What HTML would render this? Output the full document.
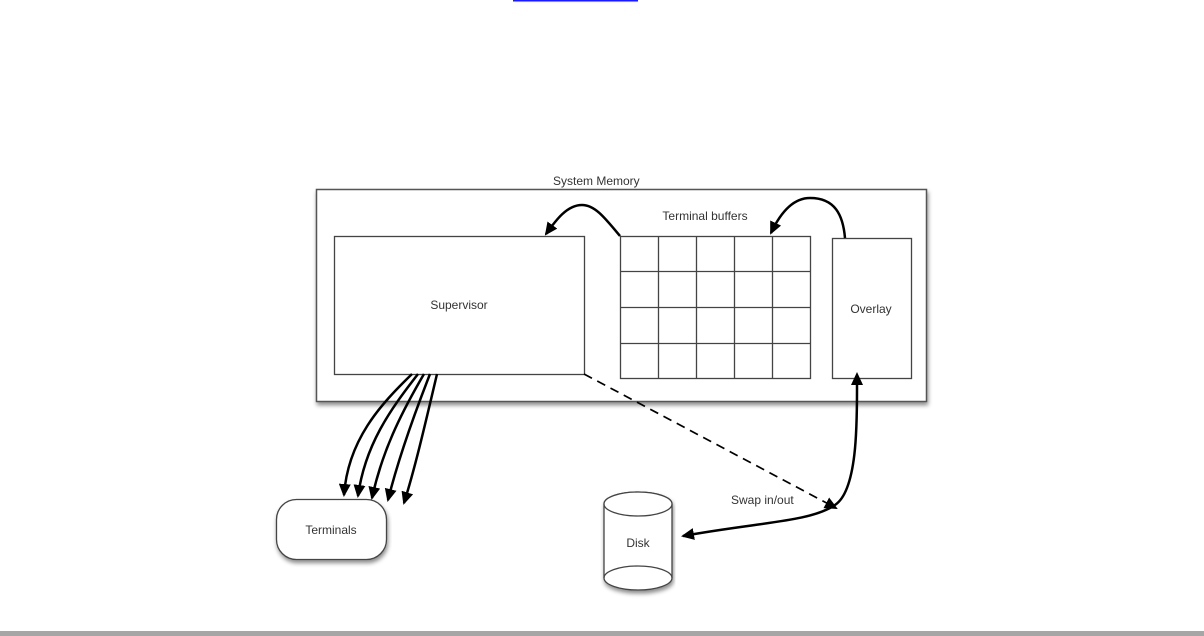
<!DOCTYPE html>
<html><head><style>
html,body{margin:0;padding:0;background:#fff;width:1204px;height:636px;overflow:hidden;position:relative}
svg{position:absolute;left:0;top:0}
text{font-family:"Liberation Sans",sans-serif;font-size:12px;fill:#333}
</style></head><body>
<svg width="1204" height="636" viewBox="0 0 1204 636">
<defs>
<marker id="ah" markerWidth="13" markerHeight="12" refX="11" refY="6" orient="auto" markerUnits="userSpaceOnUse">
<path d="M0,0 L13,6 L0,12 z" fill="#000"/></marker>
<marker id="ahs" markerWidth="13" markerHeight="12" refX="2" refY="6" orient="auto-start-reverse" markerUnits="userSpaceOnUse">
<path d="M0,0 L13,6 L0,12 z" fill="#000"/></marker>
<filter id="sh" x="-5%" y="-5%" width="110%" height="120%"><feDropShadow dx="1" dy="3" stdDeviation="2" flood-color="#000" flood-opacity="0.45"/></filter>
</defs>
<line x1="513" y1="0.5" x2="638" y2="0.5" stroke="#1a1aff" stroke-width="2"/>
<rect x="0" y="631" width="1204" height="5" fill="#a6a6a6"/>
<rect x="316.5" y="189.5" width="610" height="212" fill="#fff" stroke="#555" stroke-width="1.5" filter="url(#sh)"/>
<text x="553" y="185">System Memory</text>
<rect x="334.5" y="236.5" width="250" height="138" fill="#fff" stroke="#444" stroke-width="1.3"/>
<text x="459" y="309" text-anchor="middle">Supervisor</text>
<g stroke="#444" stroke-width="1.3" fill="none">
<rect x="620.5" y="236.5" width="190" height="142"/>
<line x1="658.5" y1="236" x2="658.5" y2="379"/><line x1="696.5" y1="236" x2="696.5" y2="379"/>
<line x1="734.5" y1="236" x2="734.5" y2="379"/><line x1="772.5" y1="236" x2="772.5" y2="379"/>
<line x1="620" y1="271.5" x2="811" y2="271.5"/><line x1="620" y1="307.5" x2="811" y2="307.5"/><line x1="620" y1="343.5" x2="811" y2="343.5"/>
<rect x="832.5" y="238.5" width="79" height="140"/>
</g>
<text x="705" y="220" text-anchor="middle">Terminal buffers</text>
<text x="871" y="313" text-anchor="middle">Overlay</text>
<g stroke="#000" stroke-width="2.5" fill="none">
<path d="M620,236 C605,218 595,205 582,205 C567,205 556,220 546,234" marker-end="url(#ah)"/>
<path d="M845,238 C843,215 835,198 810,198 C790,198 778,218 771,233" marker-end="url(#ah)"/>
<path d="M412,374 C380,405 348,440 344,495" marker-end="url(#ah)"/>
<path d="M418,374 C390,410 365,445 358,496" marker-end="url(#ah)"/>
<path d="M424,374 C400,415 382,452 372,498" marker-end="url(#ah)"/>
<path d="M430,374 C412,420 398,460 388,500" marker-end="url(#ah)"/>
<path d="M437,374 C425,425 415,468 404,503" marker-end="url(#ah)"/>
<path d="M857,383 C857,420 858,490 835,505 C810,522 760,522 683,536" marker-start="url(#ahs)" marker-end="url(#ah)"/>
</g>
<path d="M584,374 L836,508" stroke="#000" stroke-width="1.7" stroke-dasharray="9,6" fill="none" marker-end="url(#ah)"/>
<text x="731" y="504">Swap in/out</text>
<rect x="276.5" y="499.5" width="110" height="60" rx="20" ry="20" fill="#fff" stroke="#444" stroke-width="1.3" filter="url(#sh)"/>
<text x="331" y="534" text-anchor="middle">Terminals</text>
<g filter="url(#sh)">
<path d="M604,504 L604,578 A34,12 0 0 0 672,578 L672,504 A34,12 0 0 0 604,504 z" fill="#fff" stroke="#444" stroke-width="1.3"/>
</g>
<ellipse cx="638" cy="504" rx="34" ry="12" fill="#fff" stroke="#444" stroke-width="1.3"/>
<path d="M604,578 A34,12 0 0 1 672,578" fill="none" stroke="#444" stroke-width="1.3"/>
<text x="638" y="547" text-anchor="middle">Disk</text>
</svg>
</body></html>
